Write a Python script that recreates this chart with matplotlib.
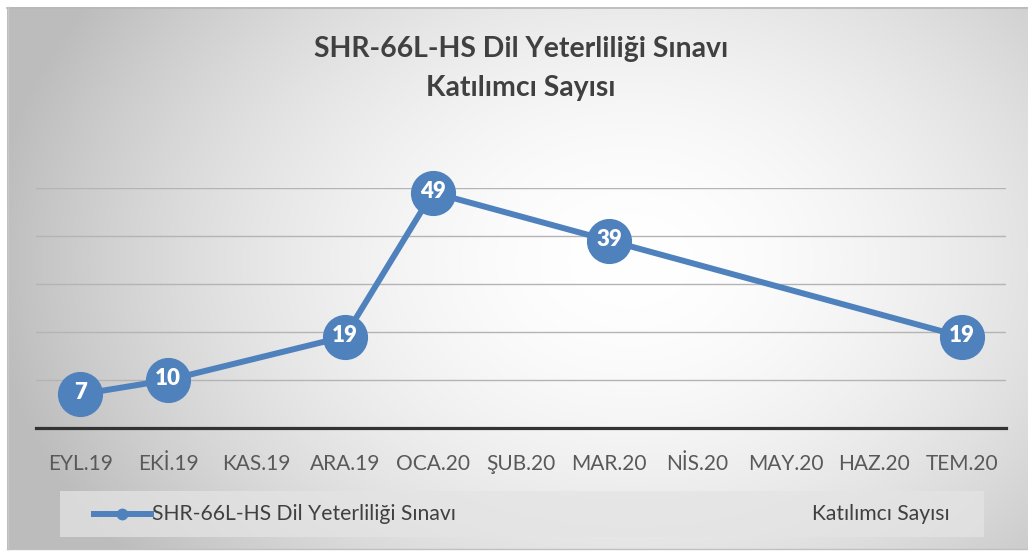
import numpy as np
import matplotlib
matplotlib.use("Agg")
import matplotlib.pyplot as plt
from matplotlib.patches import Rectangle
from matplotlib.lines import Line2D

plt.rcParams['font.family'] = ['Lato', 'DejaVu Sans']

categories = ['EYL.19', 'EKİ.19', 'KAS.19', 'ARA.19', 'OCA.20', 'ŞUB.20',
              'MAR.20', 'NİS.20', 'MAY.20', 'HAZ.20', 'TEM.20']
values = [7, 10, None, 19, 49, None, 39, None, None, None, 19]
series_name = 'SHR-66L-HS Dil Yeterliliği Sınavı'
title_lines = ['SHR-66L-HS Dil Yeterliliği Sınavı', 'Katılımcı Sayısı']
axis_title = 'Katılımcı Sayısı'
y_max = 50
y_step = 10

W, H = 1028, 552
fig = plt.figure(figsize=(W / 100, H / 100), dpi=100)
fig.patch.set_facecolor('white')

# background with radial gradient
bg = fig.add_axes([0, 0, 1, 1])
bg.set_xlim(0, W)
bg.set_ylim(H, 0)
bg.axis('off')
xx, yy = np.meshgrid(np.arange(W), np.arange(H))
d = np.sqrt(((xx - 630) / 640.0) ** 2 + ((yy - 260) / 480.0) ** 2)
g = 1.0 - 0.26 * np.clip(d, 0, 1) ** 1.8
img = np.dstack([g, g, g])
x0, y0, x1, y1 = 7, 7, 1028, 549
bg.imshow(img[y0:y1, x0:x1], extent=(x0, x1, y1, y0), aspect='auto',
          interpolation='bilinear', zorder=0)
bg.plot([x0, x1], [y0 + 0.5, y0 + 0.5], color='#b8b8b8', lw=1.2, zorder=1)
bg.plot([x0 + 0.5, x0 + 0.5], [y0, y1], color='#c8c8c8', lw=1.0, zorder=1)
bg.plot([x0, x1], [y1 - 0.5, y1 - 0.5], color='#c0c0c0', lw=1.0, zorder=1)

# legend box
bg.add_patch(Rectangle((60, 491), 924, 46, facecolor='#e4e4e4', alpha=0.75,
                       edgecolor='none', zorder=2))

# main axes
ax = fig.add_axes([36 / W, (H - 428) / H, 970 / W, (428 - 187.7) / H])
ax.patch.set_alpha(0)
xs = [i for i, v in enumerate(values) if v is not None]
ys = [v for v in values if v is not None]
color = '#4F81BD'
ax.plot(xs, ys, color=color, lw=4.3, marker='o', markersize=31.5,
        markerfacecolor=color, markeredgecolor=color, clip_on=False, zorder=5)
for x, y in zip(xs, ys):
    ax.text(x, y + 0.3, str(y), ha='center', va='center', color='white',
            fontsize=16, fontweight='heavy', zorder=6, clip_on=False)

ax.set_xlim(-0.5, len(categories) - 0.5)
ax.set_ylim(0, y_max)
ax.set_xticks(range(len(categories)))
ax.set_xticklabels(categories, fontsize=15, color='#595959')
ax.set_yticks(np.arange(y_step, y_max + 1, y_step))
ax.set_yticklabels([])
ax.tick_params(axis='both', length=0)
ax.tick_params(axis='x', pad=19)
ax.grid(axis='y', color='#b4b4b4', lw=1.0)
ax.set_axisbelow(True)
for s in ['top', 'right', 'left']:
    ax.spines[s].set_visible(False)
ax.spines['bottom'].set_color('#333333')
ax.spines['bottom'].set_linewidth(2.3)
ax.spines['bottom'].set_zorder(4)

# title
fig.text(521 / W, 1 - 49 / H, title_lines[0], ha='center', va='center',
         fontsize=20.4, fontweight='bold', color='#404040')
fig.text(521 / W, 1 - 88 / H, title_lines[1], ha='center', va='center',
         fontsize=20.4, fontweight='bold', color='#404040')

# legend content
bg.add_line(Line2D([94, 151], [514, 514], color=color, lw=4.3, marker=None, zorder=3))
bg.add_line(Line2D([122], [514], color=color, marker='o', markersize=7.5, zorder=3))
bg.text(152, 514, series_name, ha='left', va='center', fontsize=15.2,
        color='#404040', zorder=3)
bg.text(950, 514, axis_title, ha='right', va='center', fontsize=15.2,
        color='#404040', zorder=3)

fig.savefig('out.png', dpi=100)
